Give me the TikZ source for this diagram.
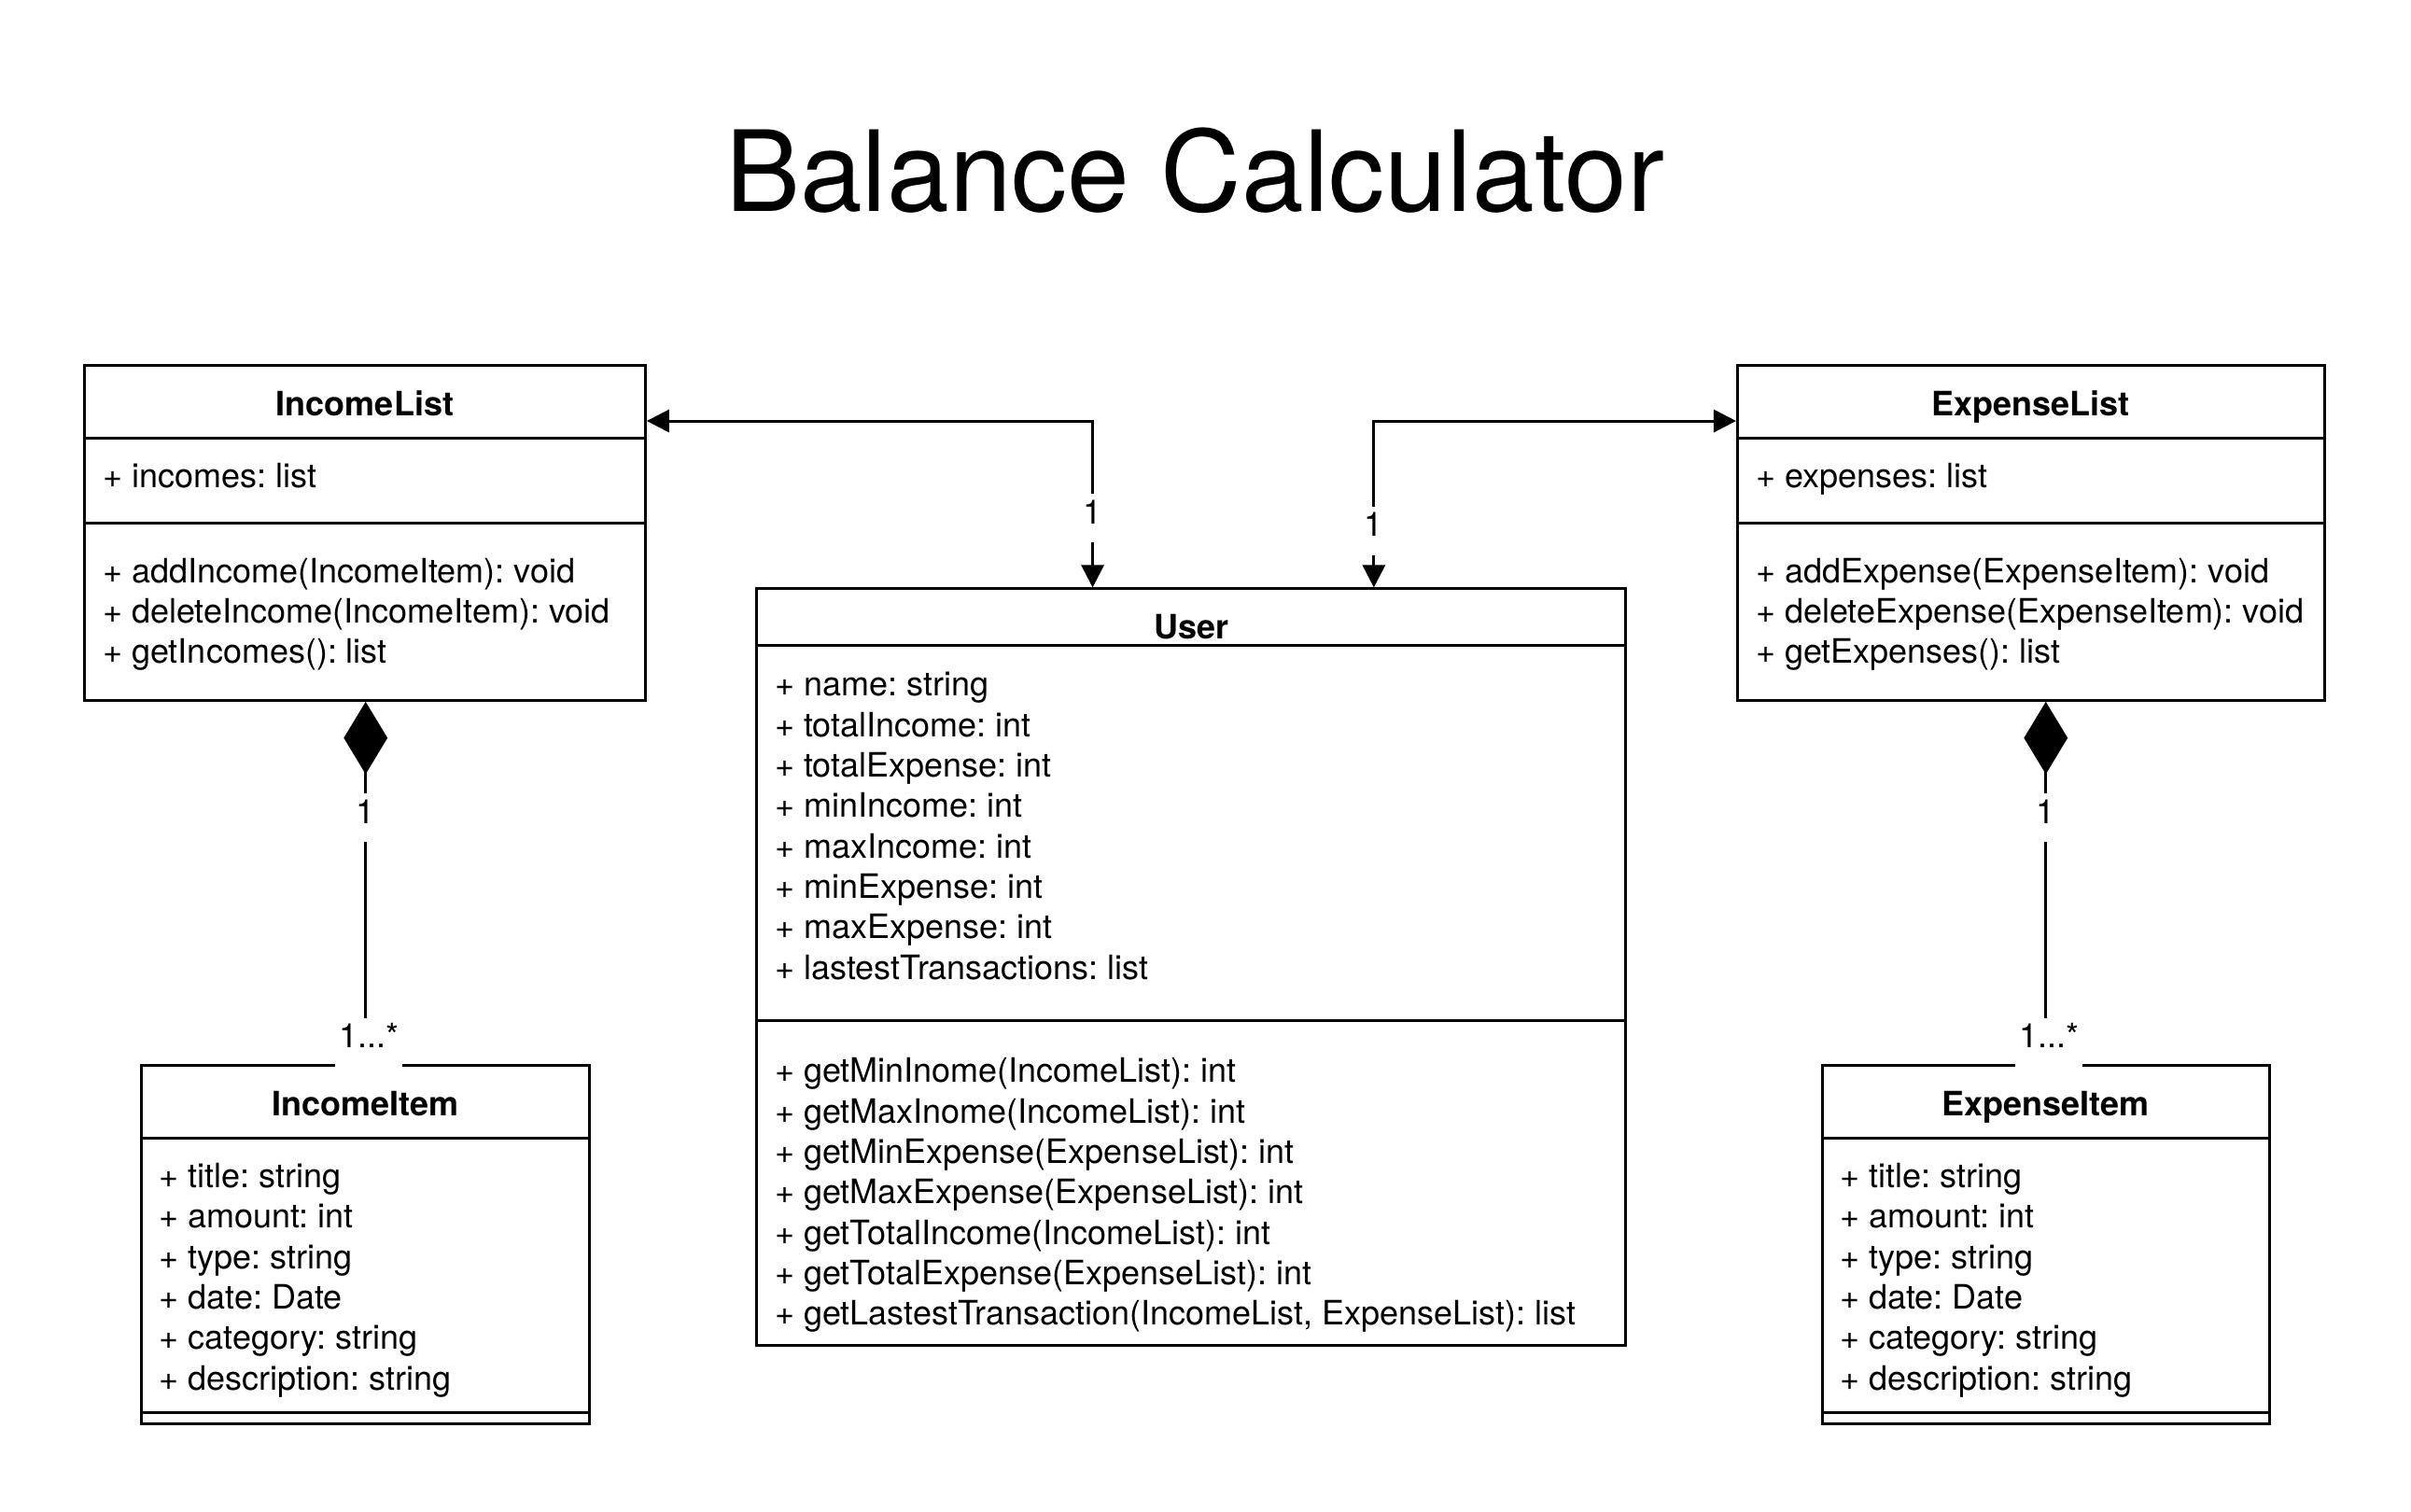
\documentclass[tikz,border=0pt]{standalone}
\usepackage{fontspec}
\setmainfont{TeX Gyre Heros}
\usetikzlibrary{arrows.meta,fit}
\frenchspacing
\begin{document}
\begin{tikzpicture}[x=0.4118pt, y=-0.4118pt, line width=0.75pt,
  clsbox/.style={draw, inner sep=0pt},
  hdr/.style={font=\bfseries\fontsize{9}{10.8}\selectfont, anchor=base, inner sep=0pt},
  txt/.style={font=\fontsize{9}{10.8}\selectfont, anchor=base west, inner sep=0pt},
  lbl/.style={font=\fontsize{9}{10.8}\selectfont, fill=white, inner sep=1pt, text height=7pt, text depth=4pt, anchor=base},
  assoc/.style={{Triangle[length=6pt,width=6pt]}-{Triangle[length=6pt,width=6pt]}},
  comp/.style={{Diamond[length=19.4pt,width=11.7pt]}-},
]
\useasboundingbox (0,0) rectangle (1568,983);

% Title
\node[font=\fontsize{30}{36}\selectfont, anchor=base, inner sep=0pt] (title) at (777,137.5) {Balance Calculator};

% IncomeList
\node[clsbox, fit={(55,237.8) (419.7,455.5)}] (incomelist) {};
\draw (55,284.8) -- (419.7,284.8);
\draw (55,340) -- (419.7,340);
\node[hdr] (incomelist-name) at (237.35,270.3) {IncomeList};
\node[txt] (incomelist-a1) at (66,317.3) {+ incomes: list};
\foreach \t [count=\i] in {{+ addIncome(IncomeItem): void},{+ deleteIncome(IncomeItem): void},{+ getIncomes(): list}}
  \node[txt] (incomelist-m\i) at (66,{379+(\i-1)*26.3}) {\t};

% ExpenseList
\node[clsbox, fit={(1130,237.8) (1511.6,455.5)}] (expenselist) {};
\draw (1130,284.8) -- (1511.6,284.8);
\draw (1130,340) -- (1511.6,340);
\node[hdr] (expenselist-name) at (1320.8,270.3) {ExpenseList};
\node[txt] (expenselist-a1) at (1141,317.3) {+ expenses: list};
\foreach \t [count=\i] in {{+ addExpense(ExpenseItem): void},{+ deleteExpense(ExpenseItem): void},{+ getExpenses(): list}}
  \node[txt] (expenselist-m\i) at (1141,{379+(\i-1)*26.3}) {\t};

% User
\node[clsbox, fit={(492.3,383) (1057,874.8)}] (user) {};
\draw (492.3,419.9) -- (1057,419.9);
\draw (492.3,663.8) -- (1057,663.8);
\node[hdr] (user-name) at (774.65,415.6) {User};
\foreach \t [count=\i] in {{+ name: string},{+ totalIncome: int},{+ totalExpense: int},{+ minIncome: int},{+ maxIncome: int},{+ minExpense: int},{+ maxExpense: int},{+ lastestTransactions: list}}
  \node[txt] (user-a\i) at (503,{452.8+(\i-1)*26.3}) {\t};
\foreach \t [count=\i] in {{+ getMinInome(IncomeList): int},{+ getMaxInome(IncomeList): int},{+ getMinExpense(ExpenseList): int},{+ getMaxExpense(ExpenseList): int},{+ getTotalIncome(IncomeList): int},{+ getTotalExpense(ExpenseList): int},{+ getLastestTransaction(IncomeList, ExpenseList): list}}
  \node[txt] (user-m\i) at (503,{704+(\i-1)*26.3}) {\t};

% IncomeItem
\node[clsbox, fit={(92.1,693) (383.5,925.8)}] (incomeitem) {};
\draw (92.1,740) -- (383.5,740);
\draw (92.1,918.5) -- (383.5,918.5);
\node[hdr] (incomeitem-name) at (237.8,725.5) {IncomeItem};
\foreach \t [count=\i] in {{+ title: string},{+ amount: int},{+ type: string},{+ date: Date},{+ category: string},{+ description: string}}
  \node[txt] (incomeitem-a\i) at (102.8,{772.5+(\i-1)*26.3}) {\t};

% ExpenseItem
\node[clsbox, fit={(1185,693) (1476,925.8)}] (expenseitem) {};
\draw (1185,740) -- (1476,740);
\draw (1185,918.5) -- (1476,918.5);
\node[hdr] (expenseitem-name) at (1330.5,725.5) {ExpenseItem};
\foreach \t [count=\i] in {{+ title: string},{+ amount: int},{+ type: string},{+ date: Date},{+ category: string},{+ description: string}}
  \node[txt] (expenseitem-a\i) at (1195.7,{772.5+(\i-1)*26.3}) {\t};

% Associations
\draw[assoc] (incomelist.east |- 0,273.8) -| (user.north -| 710.6,0);
\node[lbl] (l-inc-user) at (710.6,340.8) {1};
\draw[assoc] (user.north -| 893.5,0) |- (expenselist.west |- 0,273.8);
\node[lbl] (l-exp-user) at (893.5,348.8) {1};

% Compositions
\draw[comp] (incomelist.south -| incomeitem.north) -- (incomeitem.north);
\node[lbl] (l-inc-c1) at (237.8,535.5) {1};
\node[lbl] (l-inc-c2) at (239.8,681.5) {1...*};
\draw[comp] (expenselist.south -| expenseitem.north) -- (expenseitem.north);
\node[lbl] (l-exp-c1) at (1330.5,535.5) {1};
\node[lbl] (l-exp-c2) at (1332.5,681.5) {1...*};
\end{tikzpicture}
\end{document}
